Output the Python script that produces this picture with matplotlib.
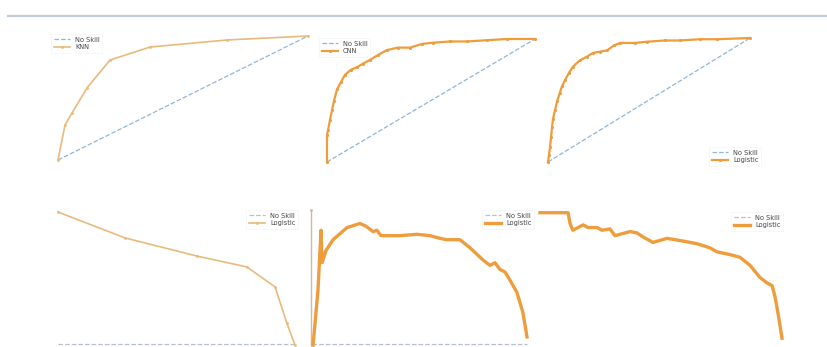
import matplotlib
matplotlib.use("Agg")
import matplotlib.pyplot as plt

W, H = 827, 347

# --- ROC curves (fpr, tpr) ---
knn_fpr = [0, 0.028, 0.056, 0.116, 0.208, 0.368, 0.676, 1.0]
knn_tpr = [0, 0.282, 0.379, 0.581, 0.806, 0.911, 0.968, 1.0]

cnn_fpr = [0, 0, 0.005, 0.014, 0.024, 0.034, 0.048, 0.067, 0.087, 0.115, 0.144, 0.173,
           0.207, 0.245, 0.288, 0.341, 0.399, 0.457, 0.510, 0.591, 0.673, 0.769, 0.865, 1.0]
cnn_tpr = [0, 0.22, 0.26, 0.34, 0.42, 0.50, 0.59, 0.65, 0.71, 0.75, 0.77, 0.80,
           0.83, 0.87, 0.91, 0.93, 0.93, 0.96, 0.97, 0.98, 0.98, 0.99, 1.0, 1.0]

log_fpr = [0, 0.005, 0.010, 0.015, 0.020, 0.025, 0.035, 0.045, 0.059, 0.069, 0.084, 0.104,
           0.124, 0.158, 0.193, 0.223, 0.257, 0.292, 0.327, 0.356, 0.431, 0.490, 0.579,
           0.653, 0.752, 0.837, 1.0]
log_tpr = [0, 0.06, 0.12, 0.20, 0.28, 0.35, 0.42, 0.49, 0.56, 0.61, 0.66, 0.72,
           0.77, 0.82, 0.85, 0.88, 0.89, 0.90, 0.94, 0.96, 0.96, 0.97, 0.98,
           0.98, 0.99, 0.99, 1.0]

# --- precision-recall curves (recall, precision) ---
pr1_rec = [0, 0.283, 0.586, 0.797, 0.916, 0.966, 1.0]
pr1_prec = [0.985, 0.793, 0.659, 0.578, 0.43, 0.16, 0.0]

pr2_rec = [0.005, 0.028, 0.042, 0.047, 0.065, 0.098, 0.163, 0.223, 0.251, 0.284, 0.302,
           0.321, 0.349, 0.409, 0.488, 0.549, 0.595, 0.628, 0.688, 0.735, 0.795, 0.828,
           0.851, 0.874, 0.898, 0.921, 0.953, 0.981, 1.0]
pr2_prec = [0.0, 0.41, 0.85, 0.61, 0.70, 0.78, 0.87, 0.90, 0.88, 0.84, 0.85,
            0.81, 0.81, 0.81, 0.82, 0.81, 0.79, 0.78, 0.78, 0.72, 0.63, 0.59,
            0.61, 0.56, 0.54, 0.48, 0.39, 0.24, 0.06]

pr3_rec = [0, 0.116, 0.124, 0.136, 0.178, 0.198, 0.236, 0.256, 0.289, 0.310, 0.372, 0.401,
           0.426, 0.467, 0.525, 0.591, 0.649, 0.702, 0.731, 0.785, 0.826, 0.868, 0.909,
           0.938, 0.959, 0.971, 0.983, 1.0]
pr3_prec = [0.98, 0.98, 0.90, 0.85, 0.89, 0.87, 0.87, 0.85, 0.86, 0.81, 0.84, 0.83,
            0.80, 0.76, 0.79, 0.77, 0.75, 0.72, 0.69, 0.67, 0.65, 0.59, 0.50,
            0.46, 0.44, 0.36, 0.24, 0.05]

no_skill_pr = 0.01

BLUE = "#8fb6d8"
ORANGE = "#ee9c3c"
TAN = "#e8bb7c"

fig = plt.figure(figsize=(W / 100, H / 100), dpi=100)


def px_axes(x0, y0, x1, y1):
    # pixel box (left, top, right, bottom) -> axes with 0..1 data range
    ax = fig.add_axes([x0 / W, 1 - y1 / H, (x1 - x0) / W, (y1 - y0) / H])
    ax.set_xlim(0, 1)
    ax.set_ylim(0, 1)
    ax.axis("off")
    return ax


def add_legend(ax, x, y):
    leg = ax.legend(loc="upper left", bbox_to_anchor=(x / W, 1 - y / H),
                    bbox_transform=fig.transFigure, fontsize=4.8, frameon=True,
                    handlelength=2.4, borderpad=0.35, labelspacing=0.25,
                    fancybox=False, edgecolor="#eeeeee")
    leg.get_frame().set_linewidth(0.4)
    for t in leg.get_texts():
        t.set_color("#444444")
    return leg


# top rule
fig.add_artist(plt.Line2D([8 / W, 1], [1 - 16 / H, 1 - 16 / H], color="#c3cad8", lw=1.6))

# row 1: ROC
ax1 = px_axes(58, 36, 308, 160)
ax1.plot([0, 1], [0, 1], ls="--", color=BLUE, lw=0.9, label="No Skill", clip_on=False)
ax1.plot(knn_fpr, knn_tpr, marker=".", ms=2, color=TAN, lw=1.2, label="KNN", clip_on=False)
add_legend(ax1, 48, 31)

ax2 = px_axes(327, 39, 535, 162)
ax2.plot([0, 1], [0, 1], ls="--", color=BLUE, lw=0.9, label="No Skill", clip_on=False)
ax2.plot(cnn_fpr, cnn_tpr, marker=".", ms=2.5, color=ORANGE, lw=1.6, label="CNN", clip_on=False)
add_legend(ax2, 316, 35)

ax3 = px_axes(548, 38, 750, 162)
ax3.plot([0, 1], [0, 1], ls="--", color=BLUE, lw=0.9, label="No Skill", clip_on=False)
ax3.plot(log_fpr, log_tpr, marker=".", ms=2.5, color=ORANGE, lw=1.6, label="Logistic", clip_on=False)
add_legend(ax3, 706, 144)

# row 2: precision-recall
ax4 = px_axes(58, 210, 295, 345)
ax4.plot([0, 1], [no_skill_pr, no_skill_pr], ls="--", color="#b8c0cc", lw=0.9, label="No Skill", clip_on=False)
ax4.plot(pr1_rec, pr1_prec, marker=".", ms=2, color=TAN, lw=1.2, label="Logistic", clip_on=False)
add_legend(ax4, 243, 207)

ax5 = px_axes(312, 210, 527, 345)
ax5.plot([0, 1], [no_skill_pr, no_skill_pr], ls="--", color="#b8c0cc", lw=0.9, label="No Skill", clip_on=False)
ax5.plot([-0.005, -0.005], [0, 1], color="#c9bba5", lw=1.0, marker=".", ms=2, markevery=[1], clip_on=False)
ax5.plot(pr2_rec, pr2_prec, color=ORANGE, lw=2.4, label="Logistic", clip_on=False)
add_legend(ax5, 479, 207)

ax6 = px_axes(540, 210, 782, 345)
ax6.plot([], [], ls="--", color="#b8c0cc", lw=0.9, label="No Skill")
ax6.plot(pr3_rec, pr3_prec, color=ORANGE, lw=2.4, label="Logistic", clip_on=False)
add_legend(ax6, 728, 209)

fig.savefig("out.png", dpi=100)
